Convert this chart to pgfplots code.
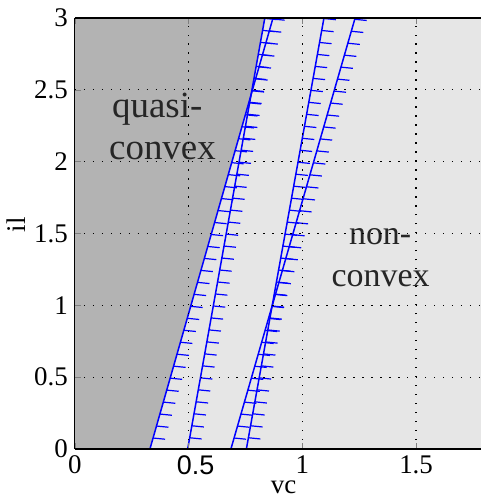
\documentclass[border=0pt]{standalone}
\usepackage{fontspec}
\setmainfont{Liberation Serif}
\newfontfamily\sansf{Liberation Sans}
\usepackage{pgfplots}
\pgfplotsset{compat=1.18}
\usetikzlibrary{decorations.markings}
\definecolor{darkreg}{RGB}{179,179,179}
\definecolor{lightreg}{RGB}{230,230,230}
\definecolor{txt}{RGB}{38,38,38}
\tikzset{hatch/.style 2 args={postaction={decorate},
  decoration={markings, mark=between positions #1 and 1 step #2 with
  {\pgftransformresetnontranslations \draw[blue, line width=0.6pt] (0,0) -- (6pt,-0.6pt);}}}}
\begin{document}
\begin{tikzpicture}
\begin{axis}[
  scale only axis, width=203.5pt, height=216pt,
  xmin=0, xmax=1.785, ymin=0, ymax=3,
  axis y line*=left,
  /pgf/number format/assume math mode=true,
  xtick={0,0.5,1,1.5}, xticklabels={0,{\hspace*{7pt}\sansf 0.5},1,1.5},
  ytick={0,0.5,1,1.5,2,2.5,3},
  grid=major, grid style={black, line width=0.6pt, dash pattern=on 0.7pt off 3.8pt},
  axis on top,
  axis background/.style={fill=lightreg},
  axis line style={black, line width=0.6pt},
  tick align=inside, major tick length=3pt,
  tick label style={font=\fontsize{13.5}{15}\selectfont},
  label style={font=\fontsize{13.5}{15}\selectfont},
  xlabel={vc}, ylabel={il},
  xlabel style={at={(axis description cs:0.514,-0.088)}, anchor=center},
  ylabel style={at={(axis description cs:-0.145,0.52)}, anchor=center},
]
\addplot[fill=darkreg, draw=none] coordinates {(0,0) (0.330,0) (0.775,2.466) (0.835,3) (0,3)} -- cycle;
\addplot[blue, line width=0.75pt, no markers, hatch={5.7pt}{6.24pt}] coordinates {(0.330,0) (0.871,3)};
\addplot[blue, line width=0.75pt, no markers, hatch={5.7pt}{6.1pt}] coordinates {(0.496,0) (0.835,3)};
\addplot[blue, line width=0.75pt, no markers, hatch={5.7pt}{6.24pt}] coordinates {(0.686,0) (1.232,3)};
\addplot[blue, line width=0.75pt, no markers, hatch={5.7pt}{6.1pt}] coordinates {(0.754,0) (1.095,3)};
\node[txt, anchor=base, font=\fontsize{18.5}{20}\selectfont] at (axis cs:0.362,2.306) {quasi-};
\node[txt, anchor=base, font=\fontsize{18.5}{20}\selectfont] at (axis cs:0.385,2.014) {convex};
\node[txt, anchor=base, font=\fontsize{17}{18}\selectfont] at (axis cs:1.342,1.424) {non-};
\node[txt, anchor=base, font=\fontsize{17}{18}\selectfont] at (axis cs:1.344,1.130) {convex};
\end{axis}
\path (current axis.south west) +(-36.5pt,-25pt) (current axis.north east) +(0pt,9pt);
\end{tikzpicture}
\end{document}
